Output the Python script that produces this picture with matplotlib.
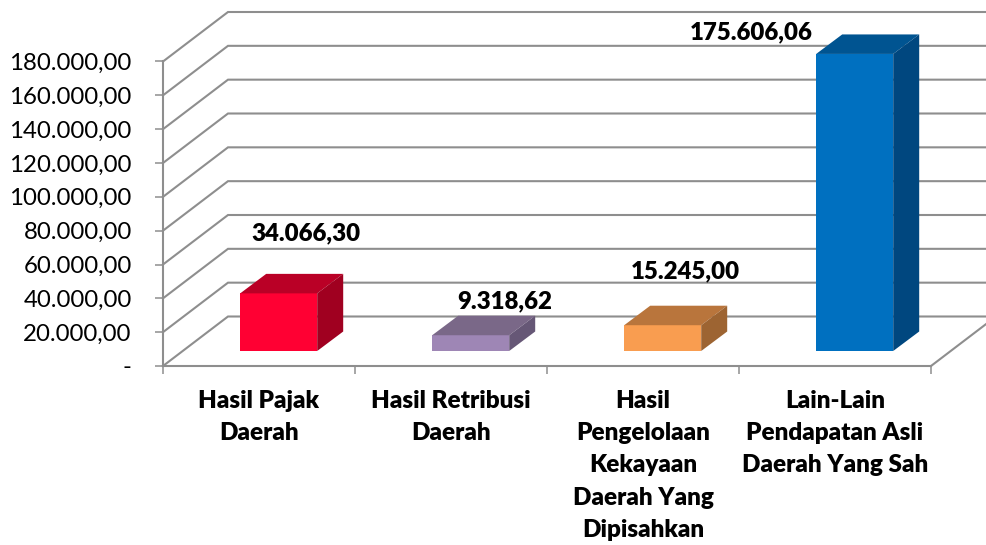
# -*- coding: utf-8 -*-
"""3D style column chart of Pendapatan Asli Daerah, drawn on plain 2D axes."""
import matplotlib.pyplot as plt

# Data
categories = ['Hasil Pajak\nDaerah', 'Hasil Retribusi\nDaerah',
              'Hasil\nPengelolaan\nKekayaan\nDaerah Yang\nDipisahkan',
              'Lain-Lain\nPendapatan Asli\nDaerah Yang Sah']
values = [34066.30, 9318.62, 15245.00, 175606.06]
value_labels = ['34.066,30', '9.318,62', '15.245,00', '175.606,06']
y_ticks = [0, 20000, 40000, 60000, 80000, 100000, 120000, 140000, 160000,
           180000]
y_tick_labels = ['-', '20.000,00', '40.000,00', '60.000,00', '80.000,00',
                 '100.000,00', '120.000,00', '140.000,00', '160.000,00',
                 '180.000,00']

# front, top, side colour of each bar
front_colors = ['#FF0033', '#9E86B5', '#F99D50', '#0070C0']
top_colors = ['#BA0026', '#7A6888', '#B9753C', '#005491']
side_colors = ['#A00020', '#665776', '#9D6432', '#00477F']

plt.rcParams['font.family'] = ['Lato', 'DejaVu Sans']
GRID = '#8E8E8E'

W, H = 987, 545
LEFT, RIGHT, BOTTOM, TOP = 163, 931, 366, 61.5

fig = plt.figure(figsize=(W / 100, H / 100), dpi=100)
ax = fig.add_axes([LEFT / W, 1 - BOTTOM / H, (RIGHT - LEFT) / W,
                   (BOTTOM - TOP) / H])
ax.set_xlim(0, 4)
ax.set_ylim(0, 180000)

# pixel to data unit factors, the fake depth is worked out with these
px_x = 4 / (RIGHT - LEFT)
px_y = 180000 / (BOTTOM - TOP)
wall_dx, wall_dy = 65 * px_x, 49.5 * px_y
bar_dx, bar_dy = 26 * px_x, 19.5 * px_y
bar_half = 38.5 * px_x
bar_x0, bar_y0 = 19.7 * px_x, 15 * px_y

# Back wall grid lines with the diagonal on the side wall
for v in y_ticks:
    ax.plot([0, wall_dx, 4 + wall_dx], [v, v + wall_dy, v + wall_dy],
            color=GRID, lw=1.5, clip_on=False, zorder=1,
            solid_joinstyle='miter')
ax.plot([4, 4 + wall_dx], [0, wall_dy], color=GRID, lw=1.5, clip_on=False,
        zorder=1)

# Bars, three faces each
for i in range(len(values)):
    x1 = i + 0.5 + bar_x0 - bar_half
    x2 = i + 0.5 + bar_x0 + bar_half
    y1 = bar_y0
    y2 = bar_y0 + values[i]
    ax.fill([x1, x2, x2, x1], [y1, y1, y2, y2], color=front_colors[i],
            lw=0, clip_on=False, zorder=3)
    ax.fill([x1, x2, x2 + bar_dx, x1 + bar_dx],
            [y2, y2, y2 + bar_dy, y2 + bar_dy], color=top_colors[i],
            lw=0, clip_on=False, zorder=3)
    ax.fill([x2, x2 + bar_dx, x2 + bar_dx, x2],
            [y1, y1 + bar_dy, y2 + bar_dy, y2], color=side_colors[i],
            lw=0, clip_on=False, zorder=3)

# Data labels were placed by hand in the original, offsets in pixels
label_offsets = [(27, 60), (34, 34), (23, 54), (-103, 22)]
for i in range(len(values)):
    ax.annotate(value_labels[i],
                (i + 0.5 + bar_x0, bar_y0 + values[i]),
                xytext=(label_offsets[i][0] * 0.72, label_offsets[i][1] * 0.72),
                textcoords='offset points', ha='center', va='center',
                fontsize=17.3, fontweight='heavy', color='black', zorder=5,
                annotation_clip=False)

ax.set_yticks(y_ticks)
ax.set_yticklabels(y_tick_labels, fontsize=17.3, color='black')
ax.set_xticks([0, 1, 2, 3, 4])
ax.set_xticklabels([])
ax.set_xticks([0.5, 1.5, 2.5, 3.5], minor=True)
ax.set_xticklabels(categories, minor=True, fontsize=17.5, fontweight='heavy',
                   linespacing=1.56, va='top')
ax.tick_params(axis='y', length=5.5, width=1.1, color=GRID, pad=17)
ax.tick_params(axis='x', which='major', length=6, width=1.1, color=GRID)
ax.tick_params(axis='x', which='minor', length=0, pad=17.5)

ax.patch.set_visible(False)
for side in ['top', 'right']:
    ax.spines[side].set_visible(False)
for side in ['left', 'bottom']:
    ax.spines[side].set_color(GRID)
    ax.spines[side].set_linewidth(1.5)
    ax.spines[side].set_zorder(2)

plt.savefig('out.png', dpi=100)
